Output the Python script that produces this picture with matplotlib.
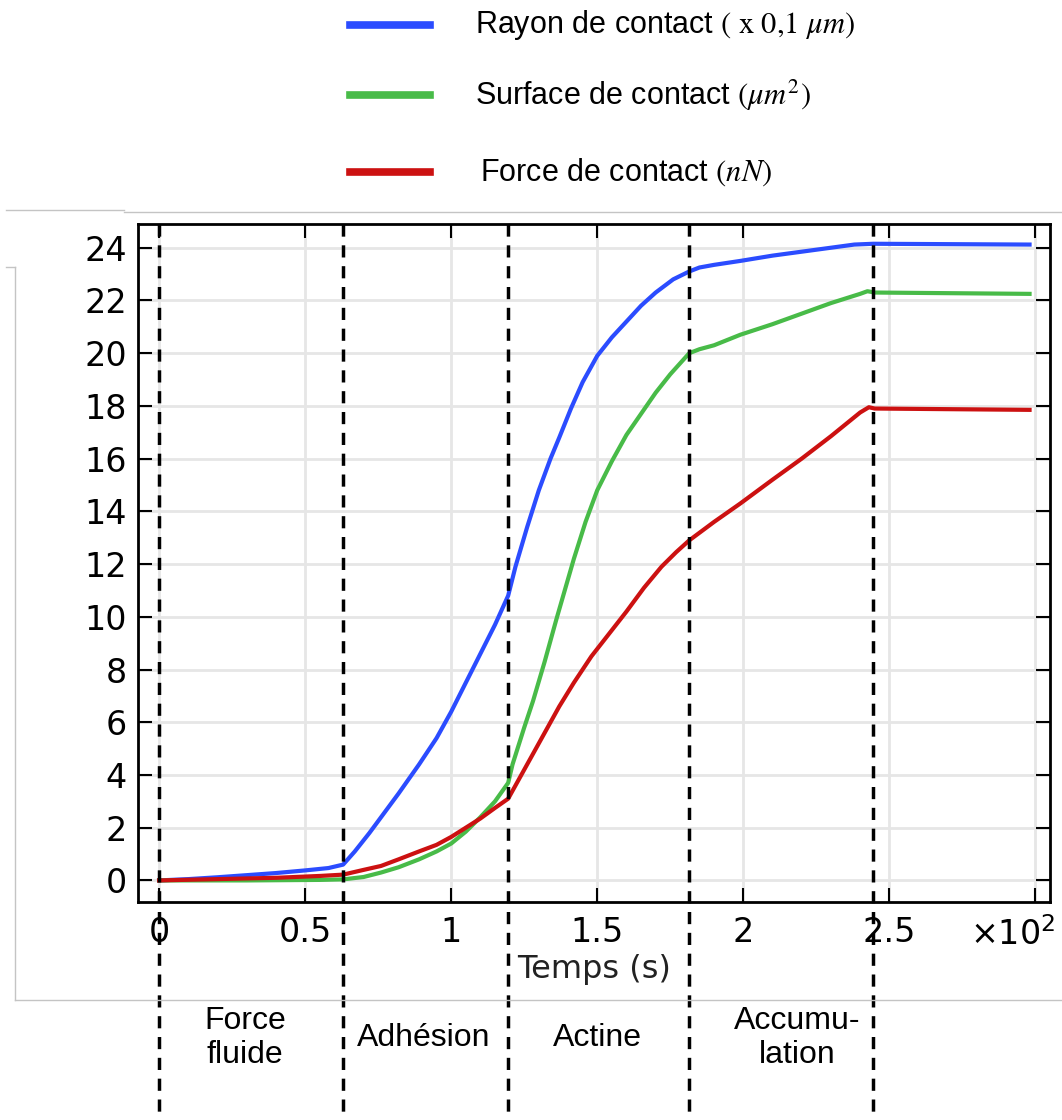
import matplotlib
matplotlib.use("Agg")
from matplotlib import pyplot as plt
from matplotlib.lines import Line2D
from matplotlib.transforms import blended_transform_factory

plt.rcParams['mathtext.fontset'] = 'stix'

# temps (s) et valeurs
t_rayon = [0, 10, 20, 30, 40, 50, 58, 63, 67, 72, 76, 82, 89, 95, 100, 105, 110, 115, 119.5,
           122, 126, 130, 134, 137, 141, 145, 150, 155, 160, 165, 170, 176, 181.5,
           185, 190, 199, 210, 220, 230, 238, 244.5, 298]
rayon = [0, 0.05, 0.12, 0.2, 0.28, 0.38, 0.47, 0.6, 1.1, 1.8, 2.4, 3.3, 4.4, 5.4, 6.4, 7.5, 8.6, 9.7, 10.8,
         11.9, 13.4, 14.8, 16.0, 16.8, 17.9, 18.9, 19.9, 20.6, 21.2, 21.8, 22.3, 22.8, 23.1,
         23.25, 23.35, 23.5, 23.7, 23.85, 24.0, 24.12, 24.15, 24.12]

t_surface = [0, 30, 55, 63, 70, 76, 82, 89, 95, 100, 105, 110, 115, 119.5, 121, 125, 128, 132,
             136, 142, 146, 150, 155, 160, 165, 170, 175, 181.5, 185, 190, 199, 210, 220, 230,
             240, 242.5, 245, 298]
surface = [0, 0.0, 0.02, 0.04, 0.13, 0.3, 0.5, 0.8, 1.1, 1.4, 1.85, 2.4, 3.0, 3.7, 4.4, 5.8, 6.8, 8.3,
           9.9, 12.2, 13.6, 14.8, 15.9, 16.9, 17.7, 18.5, 19.2, 20.0, 20.15, 20.3, 20.7, 21.1, 21.5, 21.9,
           22.25, 22.35, 22.3, 22.25]

t_force = [0, 20, 40, 55, 63, 70, 76, 82, 89, 95, 100, 105, 110, 115, 119.5, 123, 127, 132, 137,
           142, 148, 154, 160, 166, 172, 177, 181.5, 190, 199, 210, 220, 230, 235, 240, 243, 245, 298]
force = [0, 0.05, 0.1, 0.17, 0.22, 0.4, 0.55, 0.8, 1.1, 1.35, 1.65, 2.0, 2.35, 2.75, 3.1, 3.8, 4.6, 5.6, 6.6,
         7.5, 8.5, 9.35, 10.2, 11.1, 11.9, 12.45, 12.9, 13.6, 14.3, 15.2, 16.0, 16.85, 17.3, 17.75, 17.95,
         17.9, 17.85]

phases_t = [0, 63, 119.5, 181.5, 244.5]
phases_noms = ["Force\nfluide", "Adhésion", "Actine", "Accumu-\nlation"]
phases_xlab = [29.5, 90.8, 150.3, 218.5]

xticks = [0, 50, 100, 150, 200, 250, 300]
xtick_labels = ["0", "0.5", "1", "1.5", "2", "2.5", ""]
yticks = list(range(0, 25, 2))

fig = plt.figure(figsize=(10.62, 11.2), dpi=100)
ax = fig.add_axes([0.130, 0.1946, 0.8587, 0.6054])

c_bleu = "#2b4cff"
c_vert = "#48bb48"
c_rouge = "#cc1111"

ax.plot(t_rayon, rayon, color=c_bleu, lw=3)
ax.plot(t_surface, surface, color=c_vert, lw=3)
ax.plot(t_force, force, color=c_rouge, lw=3)

ax.set_xlim(-7.2, 305)
ax.set_ylim(-0.82, 24.9)
ax.set_xticks(xticks)
ax.set_xticklabels(xtick_labels)
ax.set_yticks(yticks)
ax.grid(True, color="#e6e6e6", lw=2)
ax.set_axisbelow(True)
ax.tick_params(direction="in", length=10, width=1.5, top=True, right=True,
               labelsize=24, colors="black")
ax.tick_params(axis="x", pad=10)
ax.tick_params(axis="y", pad=8)
for s in ax.spines.values():
    s.set_linewidth(2)
ax.set_xlabel("Temps (s)", fontsize=23, labelpad=4, color="#222222")
ax.text(1.006, -0.022, r"$\mathregular{\times10^{2}}$", transform=ax.transAxes, fontsize=24,
        ha="right", va="top")

# lignes verticales des phases
trans = blended_transform_factory(ax.transData, ax.transAxes)
for tp in phases_t:
    ax.plot([tp, tp], [1.0, -0.322], transform=trans, color="black", lw=2.5,
            ls=(0, (3.5, 2.5)), clip_on=False)

for nom, xl in zip(phases_noms, phases_xlab):
    fig.text((159 + xl * 2.92) / 1062, 1 - 1038 / 1120, nom, ha="center", va="center",
             fontsize=23, family="Liberation Sans", linespacing=1.2)

# legende dessinee a la main
legende = [(c_bleu, "Rayon de contact " + r"$(\ \mathrm{x}\ 0{,}1\ \mu m)$", 25, 475),
           (c_vert, "Surface de contact " + r"$(\mu m^2)$", 95, 475),
           (c_rouge, "Force de contact " + r"$(nN)$", 172, 480)]
for col, txt, yp, xt in legende:
    fig.add_artist(Line2D([350 / 1062, 430 / 1062], [1 - yp / 1120] * 2, color=col, lw=5.5))
    fig.text(xt / 1062, 1 - yp / 1120, txt, fontsize=22, family="Liberation Sans",
             va="center", ha="left")

# cadres gris de la capture
gris = "#c4c4c4"
fig.add_artist(Line2D([6 / 1062, 124 / 1062], [1 - 210 / 1120] * 2, color=gris, lw=1))
fig.add_artist(Line2D([124 / 1062, 1], [1 - 211.5 / 1120] * 2, color=gris, lw=1))
fig.add_artist(Line2D([6 / 1062, 15 / 1062], [1 - 267 / 1120] * 2, color=gris, lw=1))
fig.add_artist(Line2D([15 / 1062, 15 / 1062], [1 - 267 / 1120, 1 - 1000 / 1120], color=gris, lw=1))
fig.add_artist(Line2D([15 / 1062, 1], [1 - 1000 / 1120] * 2, color=gris, lw=1))

fig.savefig("out.png", dpi=100)
